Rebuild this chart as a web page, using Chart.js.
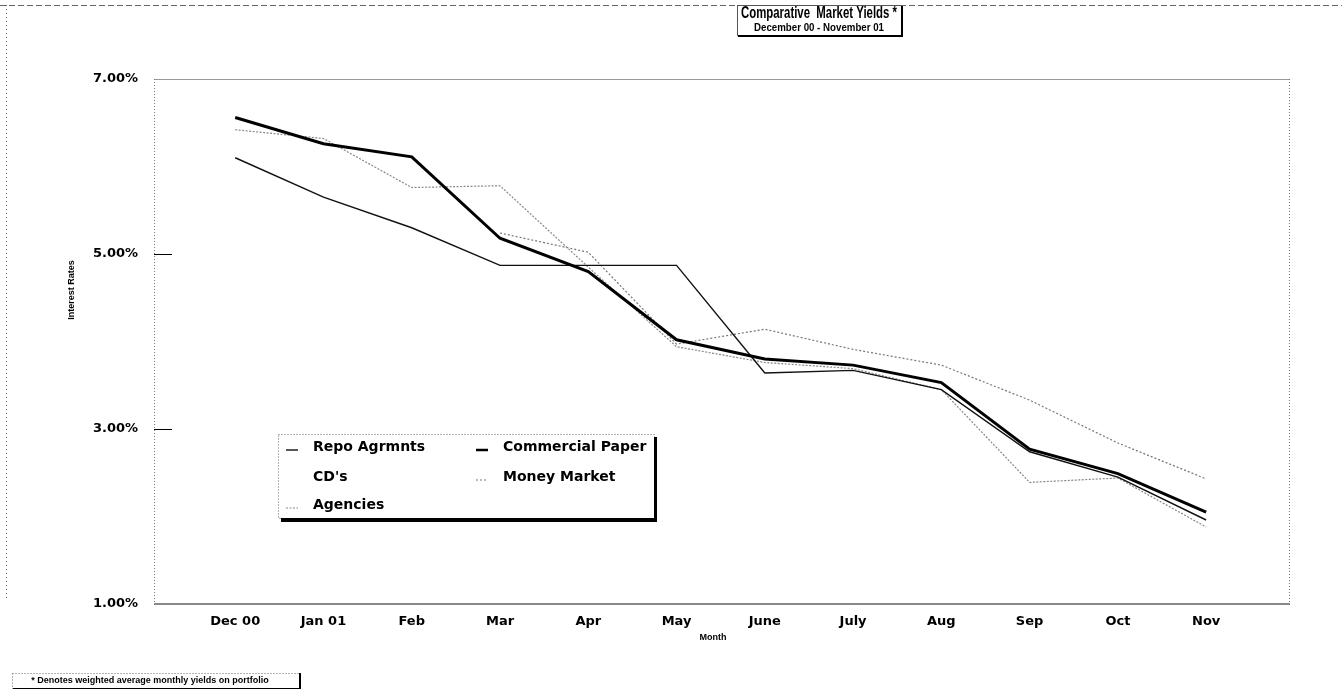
<!DOCTYPE html>
<html>
<head>
<meta charset="utf-8">
<script src="https://cdn.jsdelivr.net/npm/chart.js@4.4.0/dist/chart.umd.min.js"></script>
<style>
html, body { margin: 0; padding: 0; background: #fff; }
#wrap { width: 1342px; height: 693px; }
</style>
</head>
<body>
<div id="wrap"><canvas id="myChart" width="1342" height="693"></canvas></div>
<script>
var months = ['Dec 00', 'Jan 01', 'Feb', 'Mar', 'Apr', 'May', 'June', 'July', 'Aug', 'Sep', 'Oct', 'Nov'];
var repo = [6.10, 5.65, 5.30, 4.87, 4.87, 4.87, 3.64, 3.67, 3.45, 2.74, 2.45, 1.96];
var commPaper = [6.56, 6.26, 6.11, 5.18, 4.80, 4.02, 3.80, 3.73, 3.53, 2.77, 2.49, 2.05];
var cds = [6.50, 6.20, 6.00, 5.20, 4.85, 4.00, 3.78, 3.70, 3.50, 2.75, 2.47, 2.00];
var moneyMarket = [null, null, null, 5.24, 5.02, 3.97, 4.14, 3.91, 3.73, 3.33, 2.84, 2.43];
var agencies = [6.42, 6.32, 5.76, 5.78, 4.85, 3.94, 3.76, 3.69, 3.45, 2.39, 2.44, 1.88];
var yTicks = [1, 3, 5, 7];

var FONT = "'Liberation Sans', Arial, sans-serif";
var HEAVY = "'DejaVu Sans', 'Liberation Sans', sans-serif";

function pts(arr) {
  return arr.map(function (v, i) { return { x: i, y: v }; });
}

// fits a string into a given width by squeezing it horizontally
function squeezeText(c, txt, cx, cy, maxW) {
  var w = c.measureText(txt).width;
  var k = w > maxW ? maxW / w : 1;
  c.save();
  c.translate(cx, cy);
  c.scale(k, 1);
  c.fillText(txt, 0, 0);
  c.restore();
}

var decor = {
  id: 'decor',
  beforeDatasetsDraw: function (chart) {
    var c = chart.ctx, a = chart.chartArea;
    c.save();
    // page border
    c.strokeStyle = '#666';
    c.lineWidth = 1;
    c.setLineDash([6, 3]);
    c.beginPath(); c.moveTo(0, 5.5); c.lineTo(1342, 5.5); c.stroke();
    c.setLineDash([1, 3]);
    c.beginPath(); c.moveTo(6.5, 5); c.lineTo(6.5, 600); c.stroke();
    // plot frame
    c.setLineDash([]);
    c.strokeStyle = '#999';
    c.beginPath(); c.moveTo(a.left, a.top + 0.5); c.lineTo(a.right, a.top + 0.5); c.stroke();
    c.setLineDash([1, 2]);
    c.strokeStyle = '#777';
    c.beginPath(); c.moveTo(a.left + 0.5, a.top); c.lineTo(a.left + 0.5, a.bottom); c.stroke();
    c.beginPath(); c.moveTo(a.right - 0.5, a.top); c.lineTo(a.right - 0.5, a.bottom); c.stroke();
    c.setLineDash([]);
    c.strokeStyle = '#888';
    c.lineWidth = 2;
    c.beginPath(); c.moveTo(a.left, a.bottom); c.lineTo(a.right, a.bottom); c.stroke();
    // inner tick marks
    c.strokeStyle = '#000';
    c.lineWidth = 1;
    var ys = chart.scales.y;
    [3, 5].forEach(function (t) {
      var y = Math.round(ys.getPixelForValue(t)) + 0.5;
      c.beginPath(); c.moveTo(a.left, y); c.lineTo(a.left + 18, y); c.stroke();
    });
    c.restore();
  },
  afterDraw: function (chart) {
    var c = chart.ctx;
    c.save();
    c.textAlign = 'center';
    c.textBaseline = 'middle';

    // title box
    c.fillStyle = '#fff';
    c.fillRect(737, 5, 165, 31);
    c.strokeStyle = '#555';
    c.lineWidth = 1;
    c.strokeRect(737.5, 5.5, 164, 30);
    c.fillStyle = '#000';
    c.fillRect(901, 6, 2, 31);
    c.fillRect(738, 35, 165, 2);
    c.font = 'bold 16px ' + FONT;
    squeezeText(c, 'Comparative  Market Yields *', 819, 14, 156);
    c.font = 'bold 11px ' + FONT;
    squeezeText(c, 'December 00 - November 01', 819, 28, 130);

    // axis titles
    c.font = 'bold 9px ' + FONT;
    c.fillText('Month', 713, 638);
    c.save();
    c.translate(72, 290);
    c.rotate(-Math.PI / 2);
    c.fillText('Interest Rates', 0, 0);
    c.restore();

    // legend
    var lx = 278, ly = 434, lw = 376, lh = 84;
    c.fillStyle = '#fff';
    c.fillRect(lx, ly, lw, lh);
    c.strokeStyle = '#666';
    c.setLineDash([1, 2]);
    c.strokeRect(lx + 0.5, ly + 0.5, lw, lh);
    c.setLineDash([]);
    c.fillStyle = '#000';
    c.fillRect(lx + 3, ly + lh, lw, 4);
    c.fillRect(lx + lw, ly + 3, 3, lh + 1);
    var slots = [[286, 447], [476, 447], [286, 477], [476, 477], [286, 505]];
    var order = [0, 1, 2, 4, 3];
    c.font = 'bold 14px ' + HEAVY;
    c.textAlign = 'left';
    order.forEach(function (di, k) {
      var ds = chart.data.datasets[di];
      var s = slots[k];
      c.strokeStyle = ds.borderColor;
      c.lineWidth = Math.min(ds.borderWidth, 2.5);
      c.setLineDash(ds.borderDash || []);
      c.beginPath(); c.moveTo(s[0], s[1] + 3); c.lineTo(s[0] + 12, s[1] + 3); c.stroke();
      c.setLineDash([]);
      c.fillStyle = '#000';
      c.fillText(ds.label, s[0] + 27, s[1]);
    });

    // footnote
    c.strokeStyle = '#666';
    c.lineWidth = 1;
    c.setLineDash([1, 2]);
    c.strokeRect(12.5, 673.5, 287, 15);
    c.setLineDash([]);
    c.fillStyle = '#000';
    c.fillRect(299, 673, 2, 16);
    c.fillRect(13, 688, 288, 1);
    c.font = 'bold 9px ' + FONT;
    c.textAlign = 'center';
    c.fillText('* Denotes weighted average monthly yields on portfolio', 150, 681);
    c.restore();
  }
};

var ctx = document.getElementById('myChart').getContext('2d');
var myChart = new Chart(ctx, {
  type: 'line',
  data: {
    datasets: [{
      label: 'Repo Agrmnts',
      data: pts(repo),
      borderColor: '#111',
      borderWidth: 1.4,
      order: 1
    }, {
      label: 'Commercial Paper',
      data: pts(commPaper),
      borderColor: '#000',
      borderWidth: 3,
      order: 0
    }, {
      label: "CD's",
      data: pts(cds),
      borderColor: '#fff',
      borderWidth: 1,
      order: 5
    }, {
      label: 'Agencies',
      data: pts(agencies),
      borderColor: '#888',
      borderWidth: 1.2,
      borderDash: [2, 1.5],
      order: 2
    }, {
      label: 'Money Market',
      data: pts(moneyMarket),
      borderColor: '#777',
      borderWidth: 1.2,
      borderDash: [2, 2],
      order: 3
    }]
  },
  options: {
    responsive: false,
    animation: false,
    devicePixelRatio: 1,
    layout: { padding: { top: 79, right: 52, left: 0, bottom: 0 } },
    elements: { point: { radius: 0 }, line: { tension: 0 } },
    plugins: { legend: { display: false }, title: { display: false }, tooltip: { enabled: false } },
    scales: {
      x: {
        type: 'linear',
        min: -0.92,
        max: 11.95,
        afterBuildTicks: function (s) { s.ticks = months.map(function (m, i) { return { value: i }; }); },
        afterFit: function (s) { s.height = 89; },
        grid: { display: false, drawTicks: false },
        border: { display: false },
        ticks: {
          autoSkip: false,
          maxRotation: 0,
          padding: 10,
          color: '#000',
          font: { family: HEAVY, size: 13, weight: 'bold' },
          callback: function (v) { return months[v]; }
        }
      },
      y: {
        min: 1,
        max: 7,
        afterBuildTicks: function (s) { s.ticks = yTicks.map(function (v) { return { value: v }; }); },
        afterFit: function (s) { s.width = 154; },
        grid: { display: false, drawTicks: false },
        border: { display: false },
        ticks: {
          padding: 16,
          color: '#000',
          font: { family: HEAVY, size: 13, weight: 'bold' },
          callback: function (v) { return v.toFixed(2) + '%'; }
        }
      }
    }
  },
  plugins: [decor]
});
</script>
</body>
</html>
